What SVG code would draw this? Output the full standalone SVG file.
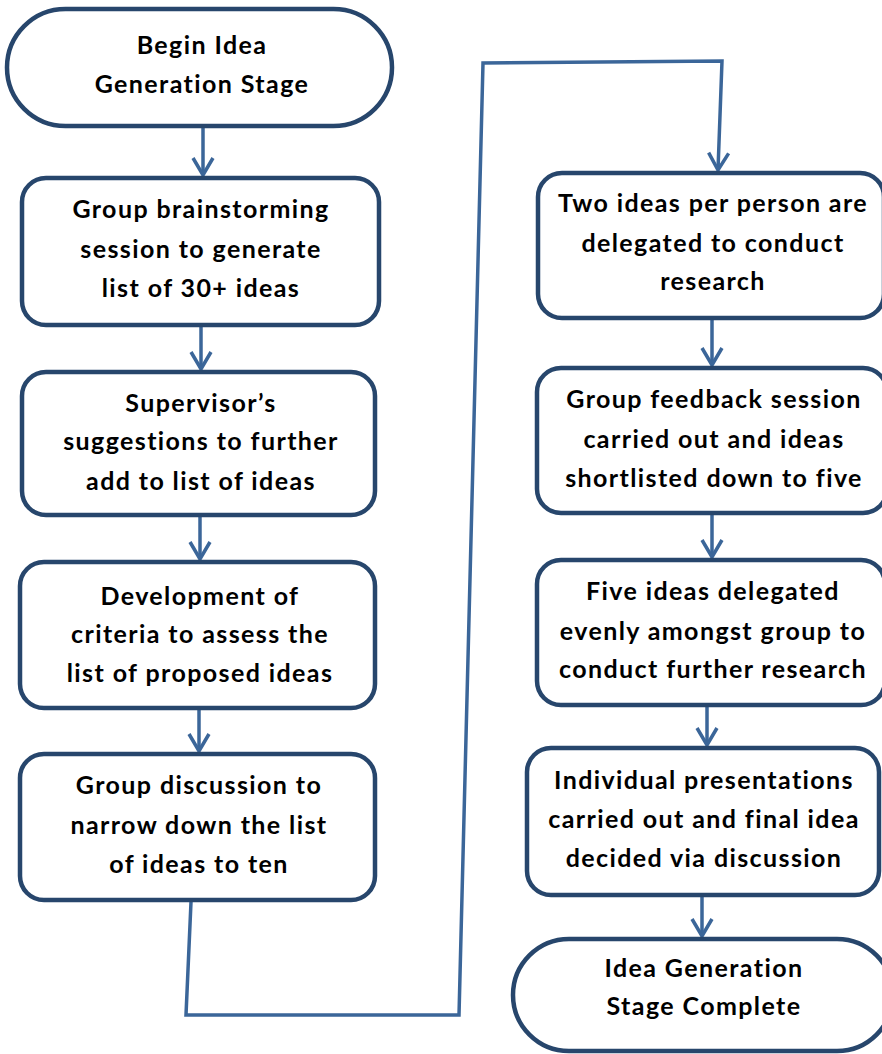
<svg xmlns="http://www.w3.org/2000/svg" width="882" height="1054" viewBox="0 0 882 1054">
<style>
.box{fill:#ffffff;stroke:#27466c;stroke-width:4.5}
.con{fill:none;stroke:#3b6699;stroke-width:3.5;stroke-linejoin:miter}
.t{font-family:Lato,"Liberation Sans",sans-serif;font-weight:bold;font-size:25px;letter-spacing:1.4px;fill:#000000;text-anchor:middle}
</style>
<defs>
<marker id="arr" markerUnits="userSpaceOnUse" markerWidth="30" markerHeight="30" viewBox="-25 -15 30 30" refX="0" refY="0" orient="auto">
<path d="M-17,-10 L0,0 L-17,10" fill="none" stroke="#3b6699" stroke-width="3.5"/>
</marker>
</defs>
<rect width="882" height="1054" fill="#ffffff"/>
<g id="connectors">
<path class="con" d="M203,127 L203,175" marker-end="url(#arr)"/>
<path class="con" d="M201,327 L201,369" marker-end="url(#arr)"/>
<path class="con" d="M200,517 L200,559" marker-end="url(#arr)"/>
<path class="con" d="M199,710 L199,751" marker-end="url(#arr)"/>
<path class="con" d="M191,902 L186,1015 L459,1015 L483,63 L722,61 L718,170" marker-end="url(#arr)"/>
<path class="con" d="M712,320 L712,365" marker-end="url(#arr)"/>
<path class="con" d="M712,515 L712,557" marker-end="url(#arr)"/>
<path class="con" d="M707,707 L707,745" marker-end="url(#arr)"/>
<path class="con" d="M702,897 L702,936" marker-end="url(#arr)"/>
</g>
<g id="n_begin">
<rect class="box" x="7" y="9" width="385" height="117" rx="58.5"/>
<text class="t" x="202" y="54">Begin Idea</text>
<text class="t" x="202" y="93">Generation Stage</text>
</g>
<g id="n_brainstorm">
<rect class="box" x="22" y="178" width="357" height="147" rx="24"/>
<text class="t" x="201" y="218">Group brainstorming</text>
<text class="t" x="201" y="258">session to generate</text>
<text class="t" x="201" y="297">list of 30+ ideas</text>
</g>
<g id="n_supervisor">
<rect class="box" x="22" y="372" width="353" height="143" rx="24"/>
<text class="t" x="201" y="412">Supervisor’s</text>
<text class="t" x="201" y="450">suggestions to further</text>
<text class="t" x="201" y="490">add to list of ideas</text>
</g>
<g id="n_criteria">
<rect class="box" x="20" y="562" width="355" height="146" rx="24"/>
<text class="t" x="200" y="605">Development of</text>
<text class="t" x="200" y="643">criteria to assess the</text>
<text class="t" x="200" y="682">list of proposed ideas</text>
</g>
<g id="n_discussion">
<rect class="box" x="20" y="754" width="355" height="146" rx="24"/>
<text class="t" x="199" y="794">Group discussion to</text>
<text class="t" x="199" y="834">narrow down the list</text>
<text class="t" x="199" y="873">of ideas to ten</text>
</g>
<g id="n_twoideas">
<rect class="box" x="538" y="173" width="346" height="145" rx="24"/>
<text class="t" x="713" y="212">Two ideas per person are</text>
<text class="t" x="713" y="252">delegated to conduct</text>
<text class="t" x="713" y="290">research</text>
</g>
<g id="n_feedback">
<rect class="box" x="537" y="368" width="350" height="145" rx="24"/>
<text class="t" x="714" y="408">Group feedback session</text>
<text class="t" x="714" y="448">carried out and ideas</text>
<text class="t" x="714" y="487">shortlisted down to five</text>
</g>
<g id="n_fiveideas">
<rect class="box" x="537" y="560" width="348" height="145" rx="24"/>
<text class="t" x="713" y="600">Five ideas delegated</text>
<text class="t" x="713" y="640">evenly amongst group to</text>
<text class="t" x="713" y="678">conduct further research</text>
</g>
<g id="n_presentations">
<rect class="box" x="527" y="748" width="352" height="147" rx="24"/>
<text class="t" x="704" y="789">Individual presentations</text>
<text class="t" x="704" y="828">carried out and final idea</text>
<text class="t" x="704" y="867">decided via discussion</text>
</g>
<g id="n_complete">
<rect class="box" x="513" y="939" width="380" height="112" rx="56"/>
<text class="t" x="704" y="977">Idea Generation</text>
<text class="t" x="704" y="1015">Stage Complete</text>
</g>
</svg>
